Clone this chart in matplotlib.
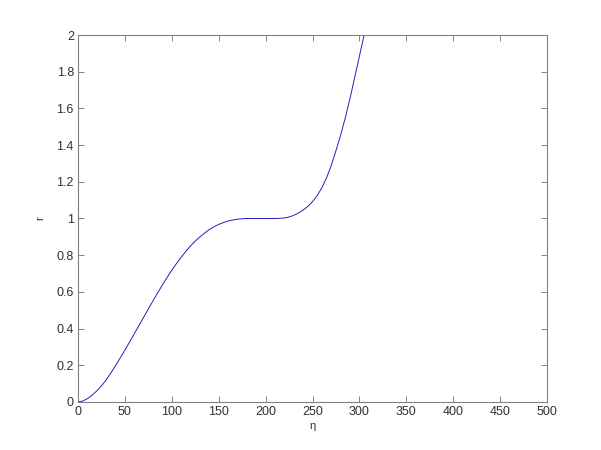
import matplotlib
matplotlib.use("Agg")
import matplotlib.pyplot as plt

plt.rcParams['font.family'] = ['Liberation Sans', 'DejaVu Sans']

# values
eta = [0, 5, 10, 15, 20, 25, 30, 35, 40, 45, 50, 55, 60, 65, 70, 75, 80, 85,
       90, 95, 100, 105, 110, 115, 120, 125, 130, 135, 140, 145, 150, 155,
       160, 165, 170, 175, 180, 190, 200, 210, 215, 220, 225, 230, 235, 240,
       245, 250, 255, 260, 265, 270, 275, 280, 285, 290, 295, 300, 305, 310]
r = [0, 0.005, 0.018, 0.037, 0.06, 0.088, 0.12, 0.158, 0.198, 0.24, 0.283,
     0.327, 0.372, 0.417, 0.462, 0.507, 0.552, 0.596, 0.638, 0.679, 0.718,
     0.755, 0.789, 0.821, 0.851, 0.877, 0.90, 0.921, 0.94, 0.955, 0.968,
     0.978, 0.986, 0.992, 0.996, 0.999, 1.0, 1.0, 1.0, 1.0, 1.001, 1.003,
     1.008, 1.017, 1.03, 1.046, 1.066, 1.092, 1.125, 1.168, 1.222, 1.29,
     1.37, 1.455, 1.55, 1.655, 1.77, 1.885, 2.0, 2.12]

xticks = [0, 50, 100, 150, 200, 250, 300, 350, 400, 450, 500]
yticks = [0, 0.2, 0.4, 0.6, 0.8, 1, 1.2, 1.4, 1.6, 1.8, 2]
ytick_labels = ['0', '0.2', '0.4', '0.6', '0.8', '1', '1.2', '1.4', '1.6', '1.8', '2']

fig = plt.figure(figsize=(6.01, 4.5), dpi=100)
ax = fig.add_axes([0.1298, 0.1067, 0.7804, 0.8155])

ax.plot(eta, r, color='#2020c0', linewidth=0.7)

ax.set_xlim(0, 500)
ax.set_ylim(0, 2)
ax.set_xticks(xticks)
ax.set_yticks(yticks)
ax.set_yticklabels(ytick_labels)
ax.tick_params(direction='in', top=True, right=True, length=4, width=0.6,
               color='#707070', labelcolor='#303030', labelsize=9, pad=3)
for s in ax.spines.values():
    s.set_color('#808080')
    s.set_linewidth(0.8)

ax.set_xlabel('η', fontsize=8, color='#303030', labelpad=2)
ax.set_ylabel('r', fontsize=8, color='#303030', labelpad=8)

fig.savefig('out.png', dpi=100)
